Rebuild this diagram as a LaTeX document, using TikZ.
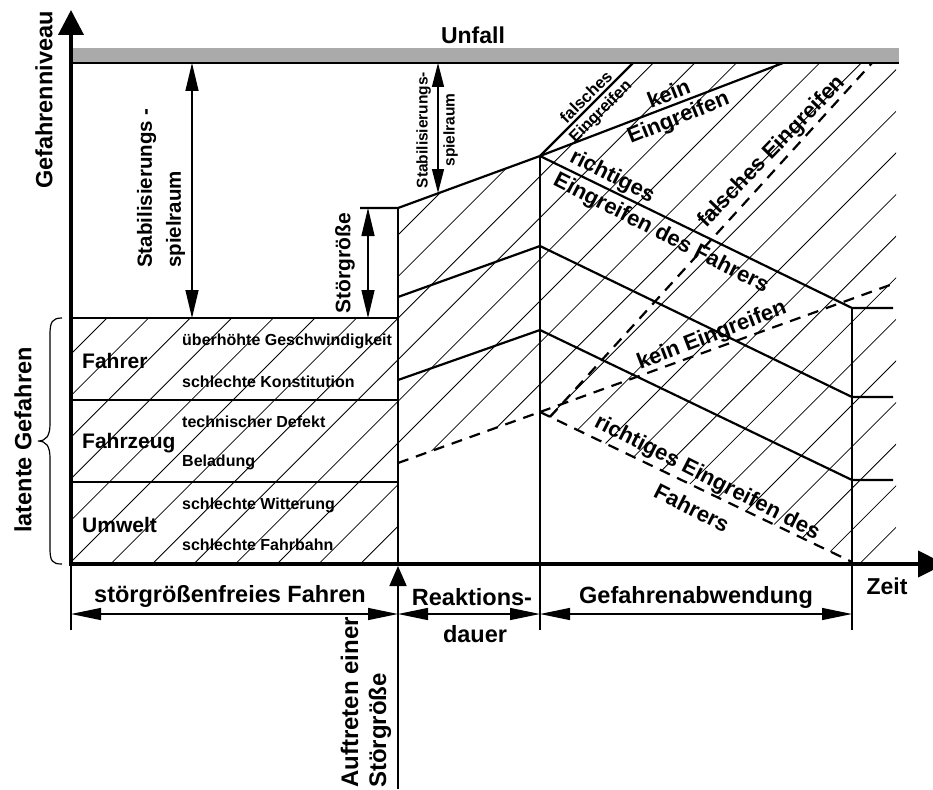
\documentclass[tikz,border=0pt]{standalone}
\usepackage{fontspec}
\setmainfont{Liberation Sans}
\usetikzlibrary{arrows.meta}
\definecolor{bandgray}{HTML}{AAAAAA}
\newcommand\hatchall{\foreach \k in {-1,...,27}{\draw[hatchline] ({425+41.6*\k},0) -- ({425+41.6*\k-800},800);}}
\begin{document}
\begin{tikzpicture}[x=1pt,y=-1pt,
  thickline/.style={line width=2.2pt},
  hatchline/.style={line width=0.8pt},
  dashline/.style={line width=2.2pt, dash pattern=on 11pt off 8pt},
  dimarrow/.style={line width=1.3pt, {Triangle[length=28pt,width=13pt]}-{Triangle[length=28pt,width=13pt]}},
  dimsmall/.style={line width=1.3pt, {Triangle[length=24pt,width=12pt]}-{Triangle[length=24pt,width=12pt]}},
  dimbottom/.style={line width=1.3pt, {Triangle[length=30pt,width=12pt]}-{Triangle[length=30pt,width=12pt]}},
  big/.style={font=\bfseries\fontsize{22}{26}\selectfont, inner sep=0pt},
  mid/.style={font=\bfseries\fontsize{21}{25}\selectfont, inner sep=0pt},
  small/.style={font=\bfseries\fontsize{16}{19}\selectfont, inner sep=0pt},
]
\useasboundingbox (0,0) rectangle (933,789);

% key points
\coordinate (P1) at (398,208); \coordinate (P2) at (398,297);
\coordinate (P3) at (398,380); \coordinate (P4) at (398,463);
\coordinate (Q1) at (540,156); \coordinate (Q2) at (540,246);
\coordinate (Q3) at (540,330); \coordinate (Q4) at (540,412);
\coordinate (Q5) at (550,417);
\coordinate (R1) at (852,308); \coordinate (R2) at (852,397);
\coordinate (R3) at (852,480); \coordinate (R4) at (852,562);
\coordinate (S1) at (893,308); \coordinate (S2) at (893,397);
\coordinate (S3) at (893,480);
\coordinate (F1) at (633,63); \coordinate (K1) at (783,63);
\coordinate (FD) at (872,63); \coordinate (KD) at (890,285);

% Unfall band
\fill[bandgray] (73,48) rectangle (899,63);
\draw[line width=1.1pt] (73,63) -- (899,63);

% hatching
\begin{scope}
  \clip (73,318) rectangle (398,564);
  \hatchall
\end{scope}
\begin{scope}
  \clip (P1) -- (Q1) -- (Q4) -- (P4) -- cycle;
  \hatchall
\end{scope}
\begin{scope}
  \clip (Q1) -- (F1) -- (896,63) -- (896,564) -- (852,564) -- (R4) -- (Q4) -- cycle;
  \hatchall
\end{scope}

% left box
\draw[thickline] (71,318) -- (398,318);
\draw[thickline] (71,400) -- (398,400);
\draw[thickline] (71,482) -- (398,482);
\draw[thickline] (360,208) -- (P1) -- (Q1);
\draw[thickline] (P1) -- (398,564);
\draw[thickline] (Q1) -- (540,564);
\draw[thickline] (R1) -- (852,564);
\draw[line width=1.5pt] (540,564) -- (540,630);
\draw[line width=1.5pt] (852,564) -- (852,630);
\draw[line width=1.5pt] (71,564) -- (71,630);

% solid course lines
\draw[thickline] (P2) -- (Q2) -- (R2) -- (S2);
\draw[thickline] (P3) -- (Q3) -- (R3) -- (S3);
\draw[thickline] (Q1) -- (R1) -- (S1);
\draw[thickline] (Q1) -- (F1);
\draw[thickline] (Q1) -- (K1);

% dashed lines
\draw[dashline] (P4) -- (Q4);
\draw[dashline] (Q4) -- (R4);
\draw[dashline] (Q4) -- (KD);
\draw[dashline] (Q5) -- (FD);

% axes
\draw[line width=4pt, -{Triangle[length=25pt,width=25pt]}] (71,566) -- (71,10);
\draw[line width=4pt, -{Triangle[length=27pt,width=26pt]}] (69,564) -- (945,564);

% dimension arrows
\draw[dimarrow] (192,63) -- (192,318);
\draw[dimarrow] (368,208) -- (368,318);
\draw[dimsmall] (438,63) -- (438,193);
\draw[dimbottom] (71,614) -- (398,614);
\draw[dimbottom] (398,614) -- (540,614);
\draw[dimbottom] (540,614) -- (852,614);
\draw[line width=1.8pt, -{Triangle[length=20pt,width=17pt]}] (398,789) -- (398,566);

% brace
\draw[line width=1.2pt] (62,318) .. controls (52,318) and (50,322) .. (50,335) -- (50,424)
  .. controls (50,436) and (46,441) .. (38,441) .. controls (46,441) and (50,446) .. (50,458)
  -- (50,548) .. controls (50,561) and (52,564) .. (62,564);

% texts
\node[big, font=\bfseries\fontsize{23.5}{27}\selectfont, rotate=90] (gn) at (44,100) {Gefahrenniveau};
\node[big, font=\bfseries\fontsize{23}{27}\selectfont] (unfall) at (473,35) {Unfall};
\node[big, font=\bfseries\fontsize{20.5}{29}\selectfont, rotate=90, align=left, anchor=west] (stab) at (161,268) {Stabilisierungs -\\spielraum};
\node[mid, rotate=90] (stoer) at (345,263) {Störgröße};
\node[inner sep=0pt, font=\bfseries\fontsize{15.5}{27}\selectfont, rotate=90, align=center] (stab2) at (437,130) {Stabilisierungs-\\spielraum};
\node[inner sep=0pt, font=\bfseries\fontsize{16.5}{20}\selectfont, rotate=45, align=center] (fe1) at (594,105) {falsches\\Eingreifen};
\node[big, rotate=22, align=center, font=\bfseries\fontsize{22}{25}\selectfont] (ke1) at (674,107) {kein\\Eingreifen};
\node[big, rotate=-27] (ri1) at (612,177) {richtiges};
\node[big, rotate=-27] (ri2) at (661,234) {Eingreifen des Fahrers};
\node[big, rotate=46] (fe2) at (772,152) {falsches Eingreifen};
\node[big, rotate=21] (ke2) at (712,336) {kein Eingreifen};
\node[big, rotate=-27] (ri3) at (707,478) {richtiges Eingreifen des};
\node[big, rotate=-27] (ri4) at (692,508) {Fahrers};

\node[mid, anchor=west] (fahrer) at (82,361) {Fahrer};
\node[mid, anchor=west] (fahrzeug) at (82,443) {Fahrzeug};
\node[mid, anchor=west] (umwelt) at (82,525) {Umwelt};
\node[small, anchor=west] (t1) at (182,341) {überhöhte Geschwindigkeit};
\node[small, anchor=west] (t2) at (182,382) {schlechte Konstitution};
\node[small, anchor=west] (t3) at (182,422) {technischer Defekt};
\node[small, anchor=west] (t4) at (182,462) {Beladung};
\node[small, anchor=west] (t5) at (182,505) {schlechte Witterung};
\node[small, anchor=west] (t6) at (182,545) {schlechte Fahrbahn};
\node[big, font=\bfseries\fontsize{23.5}{27}\selectfont, rotate=90] (lat) at (23,440) {latente Gefahren};

\node[big, font=\bfseries\fontsize{23.5}{27}\selectfont] (sf) at (230,596) {störgrößenfreies Fahren};
\node[big, font=\bfseries\fontsize{23.5}{27}\selectfont] (rk) at (472,597) {Reaktions-};
\node[big, font=\bfseries\fontsize{23.5}{27}\selectfont] (da) at (475,634) {dauer};
\node[big, font=\bfseries\fontsize{23.5}{27}\selectfont] (ga) at (696,597) {Gefahrenabwendung};
\node[big, font=\bfseries\fontsize{23}{27}\selectfont] (zeit) at (887,586) {Zeit};
\node[big, font=\bfseries\fontsize{24}{28}\selectfont, rotate=90, align=left, anchor=west] (auf) at (366,788) {Auftreten einer\\Störgröße};
\end{tikzpicture}
\end{document}
